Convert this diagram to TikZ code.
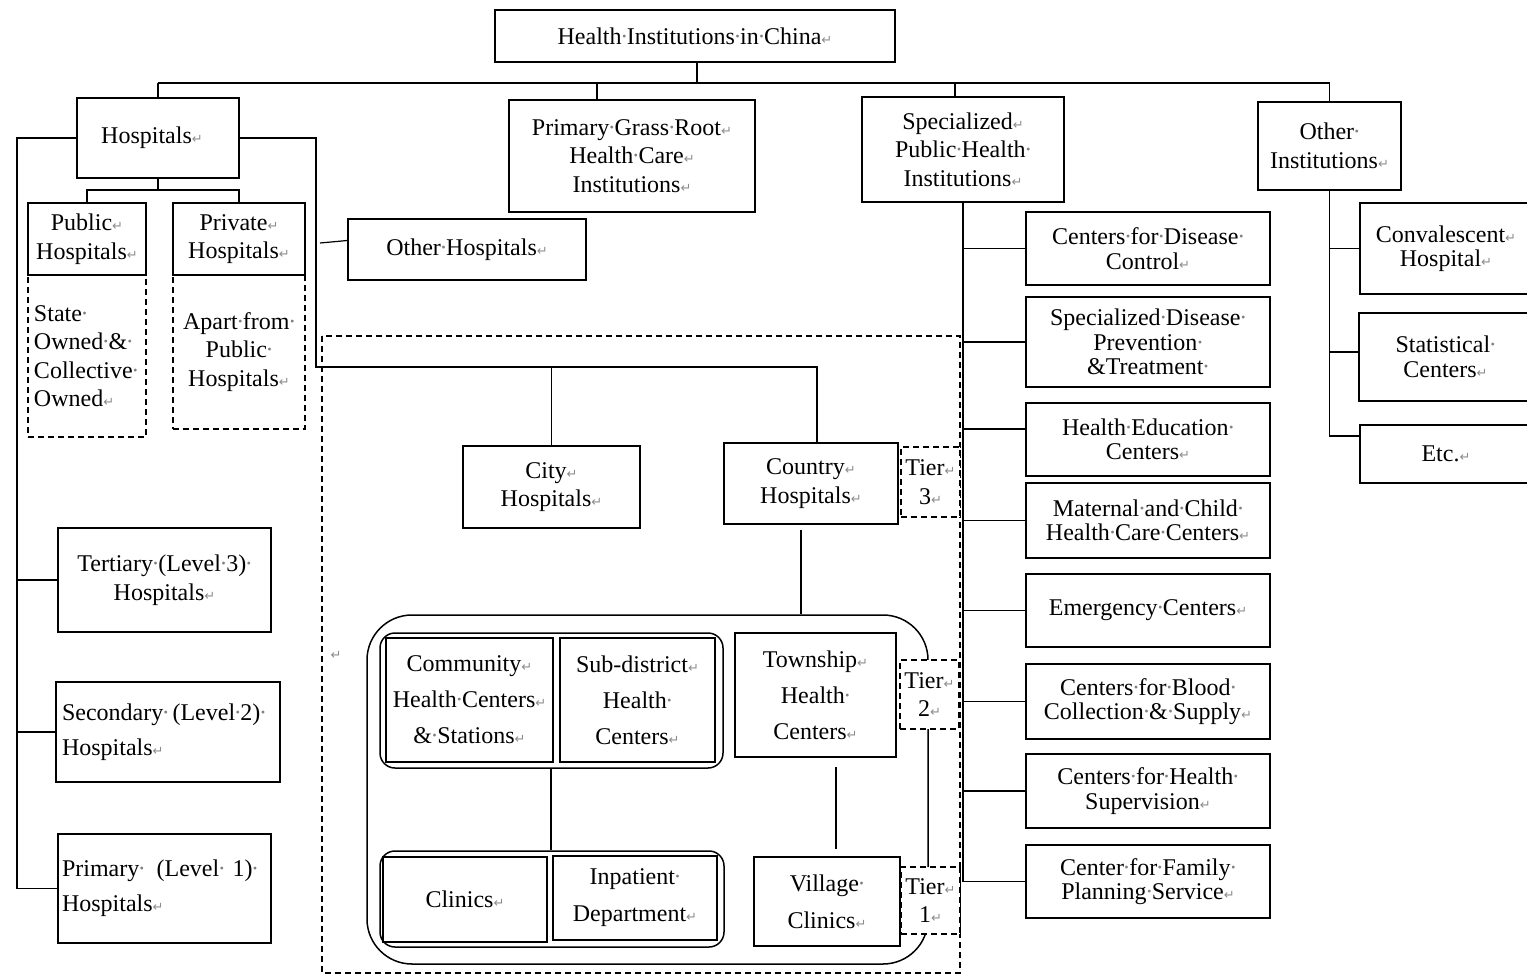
\documentclass[tikz,border=0pt]{standalone}
\usepackage{fontspec}
\setmainfont{Liberation Serif}
\newfontfamily\markfont{DejaVu Sans}
\usetikzlibrary{calc}
% paragraph and space marks as shown in the source document
\newcommand\pmark{{\markfont\fontsize{13}{13}\selectfont\color{black!45}↵}}
\newcommand\smark{\makebox[0.22em]{\color{black!50}·}}
\newcommand\txtsize{\fontsize{24}{28.5}\selectfont}

\begin{document}
\begin{tikzpicture}[x=1pt,y=-1pt,
  box/.style={draw, line width=1.5pt, inner sep=1pt, align=center, font=\txtsize},
  wh/.style 2 args={minimum width=#1pt, minimum height=#2pt},
  dbox/.style={box, dash pattern=on 6pt off 4pt},
  tier/.style={dbox, fill=white},
  grp/.style={draw, line width=1.5pt, inner sep=0pt},
  link/.style={draw, line width=1.5pt},
  wide/.style={font=\fontsize{24}{36}\selectfont},
  tight/.style={font=\fontsize{24}{24.5}\selectfont}
]
\useasboundingbox (0,0) rectangle (1527,975);

% ---------- top level ----------
\node[box, wh={400}{52}] (root) at (695,36) {Health\smark Institutions\smark in\smark China\pmark};
\node[box, wh={162}{80}] (hosp) at (158,138) {Hospitals\pmark\hspace{12pt}};
\node[box, wh={246}{112}] (pgr) at (632,156) {Primary\smark Grass\smark Root\pmark\\Health\smark Care\pmark\\Institutions\pmark};
\node[box, wh={202}{105}] (sphi) at (963,149.5) {Specialized\pmark\\Public\smark Health\smark\\Institutions\pmark};
\node[box, wh={143}{88}] (oth) at (1329.5,146) {Other\smark\\Institutions\pmark};

\coordinate (bus) at (0,83);
\draw[link] (root.south -| 697,0) -- (697,83);
\draw[link] (hosp.north |- bus) -- (oth.north |- bus);
\draw[link] (hosp.north |- bus) -- (hosp.north);
\draw[link] (597,83) -- (pgr.north -| 597,0);
\draw[link] (955,83) -- (sphi.north -| 955,0);
\draw[link] (oth.north |- bus) -- (oth.north);

% ---------- hospitals ----------
\node[box, wh={118}{72}] (pub) at (87,239) {Public\pmark\\Hospitals\pmark};
\node[dbox, text width=106pt, inner xsep=6pt, minimum height=162pt, align=left] (pubd) at (87,356)
  {State\smark\\Owned\smark\&\smark\\Collective\smark\\Owned\pmark};
\node[box, wh={132}{72}] (priv) at (239,239) {Private\pmark\\Hospitals\pmark};
\node[dbox, wh={132}{154}] (privd) at (239,352) {Apart\smark from\smark\\Public\smark\\Hospitals\pmark};
\node[box, wh={238}{61}] (othh) at (467,249.5) {Other\smark Hospitals\pmark};

\draw[link] (hosp.south) -- (hosp.south |- 0,190);
\draw[link] (pub.north) |- (hosp.south |- 0,190) -| (priv.north);
\coordinate (othhstart) at (320,243);
\draw[link, line width=1.2pt] (othhstart) -- ($(othh.west)+(0,-9)$);

% levels
\node[box, wh={213}{104}] (lvl3) at (164.5,580) {Tertiary\smark(Level\smark 3)\smark\\Hospitals\pmark};
\node[box, text width=212pt, inner xsep=6pt, minimum height=100pt, align=left,
      font=\fontsize{24}{35}\selectfont] (lvl2) at (168,732)
  {Secondary\smark\hspace{4pt}(Level\smark 2)\smark\\Hospitals\pmark};
\node[box, text width=205pt, inner xsep=4pt, minimum height=109pt, align=left,
      font=\fontsize{24}{35}\selectfont] (lvl1) at (164.5,888.5)
  {Primary\smark\hspace{12pt}(Level\smark\hspace{8pt}1)\smark\\Hospitals\pmark};

\coordinate (ltop) at (17,138);
\draw[link] (hosp.west) -- (ltop) |- (lvl1.west);
\draw[link] (ltop |- lvl3.west) -- (lvl3.west);
\draw[link] (ltop |- lvl2.west) -- (lvl2.west);

% ---------- city / country hierarchy ----------
\draw[dash pattern=on 6pt off 4pt, line width=1.5pt] (322,336) rectangle (960,973);
\node[inner sep=0pt] (stray) at (336,655) {\pmark};

\node[box, wh={177}{82}] (city) at (551.5,487) {City\pmark\\Hospitals\pmark};
\node[box, wh={174}{81}] (country) at (811,483.5) {Country\pmark\\Hospitals\pmark};

\draw[link] (hosp.east) -| (316,367) -- (817,367) -- (country.north -| 817,0);
\draw[link] (city.north |- 0,367) -- (city.north);

% rounded grouping frames
\node[grp, rounded corners=45pt, wh={561}{349}] (tiergrp) at (647.5,789.5) {};
\node[grp, rounded corners=15pt, wh={343}{135}] (upgrp) at (551.5,700.5) {};
\node[grp, rounded corners=15pt, wh={344}{96}] (lowgrp) at (552,899) {};

\coordinate (ctop) at (801,530);
\draw[link] (ctop) -- (tiergrp.north -| ctop);

\node[box, wide, wh={167}{124}] (comm) at (469.5,700) {Community\pmark\\Health\smark Centers\pmark\\\&\smark Stations\pmark};
\node[box, wide, wh={155}{124}] (subd) at (637.5,700) {Sub-district\pmark\\Health\smark\\Centers\pmark};
\node[box, wide, wh={161}{124}] (town) at (815.5,695) {Township\pmark\\Health\smark\\Centers\pmark};

\node[box, wh={164}{85}] (clin) at (465,899.5) {Clinics\pmark};
\node[box, font=\fontsize{24}{37}\selectfont, wh={164}{84}] (inp) at (635,898) {Inpatient\smark\\Department\pmark};
\node[box, font=\fontsize{24}{37}\selectfont, wh={146}{89}] (vill) at (827,901.5) {Village\smark\\Clinics\pmark};

\draw[link] (upgrp.south -| 551,0) -- (lowgrp.north -| 551,0);
\coordinate (ttop) at (836,767);
\draw[link] (ttop) -- (836,849);

\node[tier, wh={59}{70}] (tier3) at (930.5,482) {Tier\pmark\\3\pmark};
\node[tier, wh={59}{69}] (tier2) at (929.5,694.5) {Tier\pmark\\2\pmark};
\node[tier, wh={59}{67}] (tier1) at (930.5,900.5) {Tier\pmark\\1\pmark};

% ---------- specialized public health institutions ----------
\node[box, tight, wh={244}{73}] (cdc) at (1148,248.5) {Centers\smark for\smark Disease\smark\\Control\pmark};
\node[box, tight, wh={244}{90}] (sdpt) at (1148,342) {Specialized\smark Disease\smark\\Prevention\smark\\\&Treatment\smark};
\node[box, tight, wh={244}{73}] (hec) at (1148,439.5) {Health\smark Education\smark\\Centers\pmark};
\node[box, tight, wh={244}{75}] (mch) at (1148,520.5) {Maternal\smark and\smark Child\smark\\Health\smark Care\smark Centers\pmark};
\node[box, tight, wh={244}{73}] (emc) at (1148,610.5) {Emergency\smark Centers\pmark};
\node[box, tight, wh={244}{75}] (bld) at (1148,701.5) {Centers\smark for\smark Blood\smark\\Collection\smark\&\smark Supply\pmark};
\node[box, tight, wh={244}{74}] (sup) at (1148,791) {Centers\smark for\smark Health\smark\\Supervision\pmark};
\node[box, tight, wh={244}{73}] (fam) at (1148,881.5) {Center\smark for\smark Family\smark\\Planning\smark Service\pmark};

\draw[link] (sphi.south) |- (fam.west);
\foreach \n in {cdc,sdpt,mch,emc,bld,sup}
  \draw[link] (sphi.south |- \n.west) -- (\n.west);
\draw[link] (sphi.south |- 0,429) -- (hec.west |- 0,429);

% ---------- other institutions ----------
\node[box, tight, wh={172}{91}] (conv) at (1446,248.5) {Convalescent\pmark\\Hospital\pmark};
\node[box, tight, wh={173}{88}] (stat) at (1445.5,357) {Statistical\smark\\Centers\pmark};
\node[box, wh={172}{58}] (etc) at (1446,454) {Etc.\pmark};

\draw[link] (oth.south) |- (etc.west |- 0,436);
\draw[link] (oth.south |- conv.west) -- (conv.west);
\draw[link] (oth.south |- 0,352) -- (stat.west |- 0,352);
\end{tikzpicture}
\end{document}
